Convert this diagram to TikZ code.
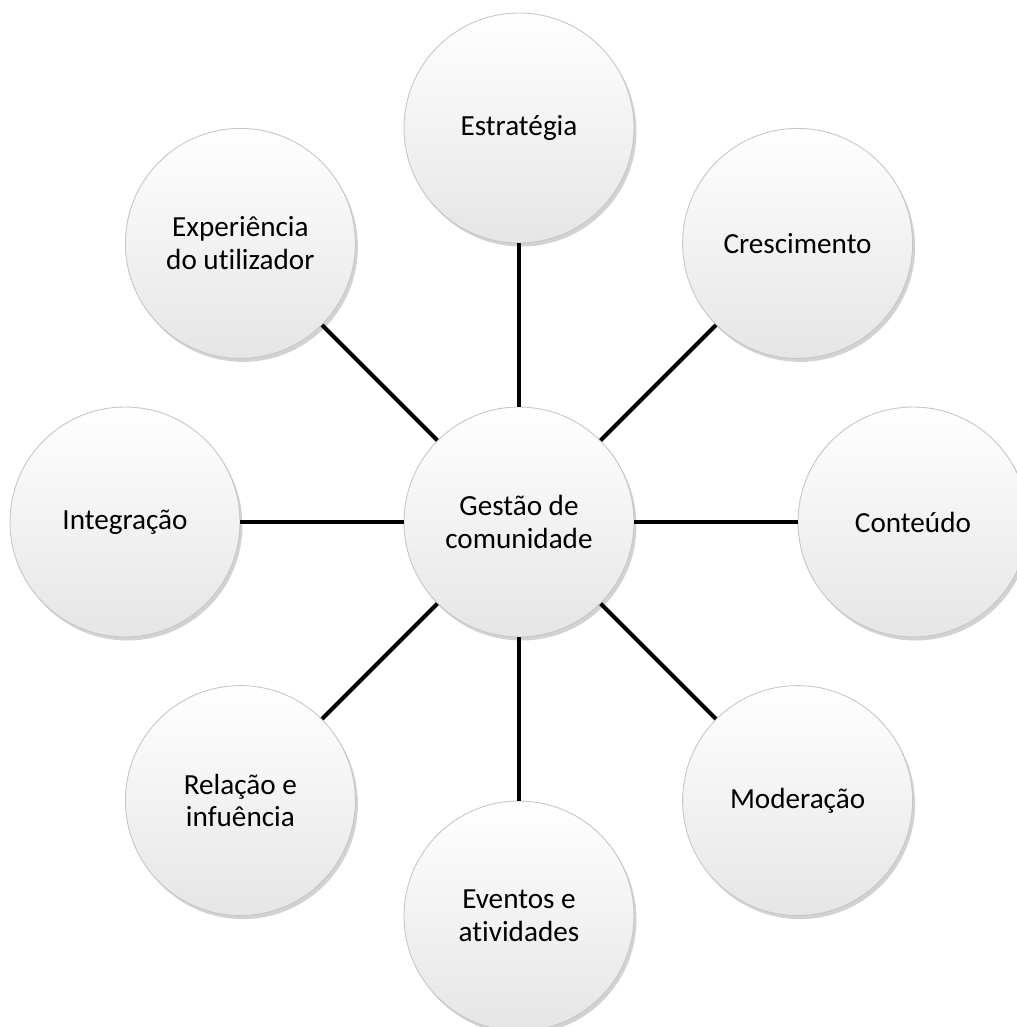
\documentclass[tikz,border=0pt]{standalone}
\usepackage{fontspec}
\setmainfont{Carlito}[Ligatures=NoCommon]
\usepackage{tikz}
\usetikzlibrary{shadows}

\tikzset{
    bubble/.style={circle, minimum size=4.6cm, inner sep=0pt, align=center,
        draw=gray!45, line width=0.5pt, top color=white, bottom color=gray!20,
        drop shadow={shadow xshift=0.05cm, shadow yshift=-0.07cm, opacity=0.25, fill=black!70},
        font=\fontsize{16.6}{18.6}\selectfont},
    link/.style={line width=2.3pt, black}
}

\begin{document}
\begin{tikzpicture}
    % Page frame
    \useasboundingbox (-10.38,-10.10) rectangle (9.96,10.44);

    % Centre
    \node[bubble] (gestao) at (0,0) {Gestão de\\comunidade};

    % Ring of topics
    \node[bubble] (estrategia) at (90:7.88) {Estratégia};
    \node[bubble] (crescimento) at (45:7.88) {Crescimento};
    \node[bubble] (conteudo) at (0:7.88) {Conteúdo};
    \node[bubble] (moderacao) at (-45:7.88) {Moderação};
    \node[bubble] (eventos) at (-90:7.88) {Eventos e\\atividades};
    \node[bubble] (relacao) at (-135:7.88) {Relação e\\infuência};
    \node[bubble] (integracao) at (180:7.88) {Integração};
    \node[bubble] (experiencia) at (135:7.88) {Experiência\\do utilizador};

    % Spokes
    \draw[link] (gestao) -- (estrategia);
    \draw[link] (gestao) -- (crescimento);
    \draw[link] (gestao) -- (conteudo);
    \draw[link] (gestao) -- (moderacao);
    \draw[link] (gestao) -- (eventos);
    \draw[link] (gestao) -- (relacao);
    \draw[link] (gestao) -- (integracao);
    \draw[link] (gestao) -- (experiencia);
\end{tikzpicture}
\end{document}
